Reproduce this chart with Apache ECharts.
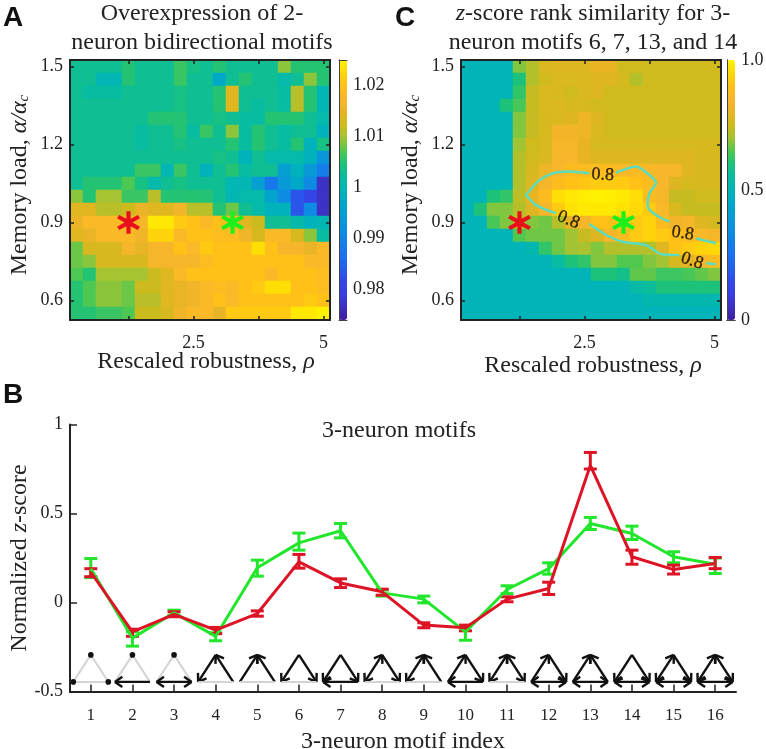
<!DOCTYPE html>
<html>
<head>
<meta charset="utf-8">
<title>Motif statistics</title>
<script src="https://cdn.jsdelivr.net/npm/echarts@6/dist/echarts.min.js"></script>
<style>
html, body { margin: 0; padding: 0; background: #fff; }
#main { width: 766px; height: 749px; }
</style>
</head>
<body>
<div id="main"></div>
<script>
// heat map axes
const rhoVals = ['0.25','0.5','0.75','1','1.25','1.5','1.75','2','2.25','2.5','2.75','3','3.25','3.5','3.75','4','4.25','4.5','4.75','5'];
const alphaVals = ['0.55','0.6','0.65','0.7','0.75','0.8','0.85','0.9','0.95','1','1.05','1.1','1.15','1.2','1.25','1.3','1.35','1.4','1.45','1.5'];
const rhoTicks = [1.25, 2.5, 3.75, 5];
const rhoLabels = [2.5, 5];
const alphaTicks = [0.6, 0.9, 1.2, 1.5];

// panel A, rows from alpha 1.5 down to 0.55
const heatA = [
  [1.003,1.003,1.003,1.003,1.005,1.003,1.003,1.003,1.006,1.004,1.003,1.005,1.003,1.003,1.003,1.003,1.009,1.005,1.005,1.005],
  [1.003,1.003,1.000,1.000,1.005,1.003,1.003,1.003,1.006,1.003,1.003,0.997,1.003,1.005,1.003,1.003,1.001,1.003,1.009,1.005],
  [1.003,1.002,1.002,1.002,1.003,1.003,1.003,1.003,1.004,1.003,1.003,1.005,1.014,1.003,1.003,1.003,1.002,1.011,1.005,1.000],
  [1.003,1.003,1.003,1.003,1.003,1.003,1.003,1.003,1.004,1.003,1.003,1.005,1.014,1.003,1.002,1.003,1.002,1.011,1.005,1.000],
  [1.003,1.003,1.003,1.003,1.003,1.003,1.005,1.005,1.005,1.003,1.003,1.004,1.003,1.002,1.002,1.005,1.005,1.005,1.003,1.001],
  [1.003,1.003,1.003,1.003,1.003,1.002,1.003,1.003,1.005,1.002,1.006,1.003,1.009,1.002,1.005,1.003,1.002,1.003,1.003,0.999],
  [1.003,1.003,1.003,1.003,1.003,1.002,1.003,1.003,1.004,1.003,1.003,1.003,1.005,1.002,1.005,1.003,1.002,1.005,0.999,1.004],
  [1.003,1.003,1.003,1.003,1.003,1.003,1.003,1.003,1.003,1.003,1.003,1.004,1.003,0.999,1.003,1.001,1.001,1.001,0.999,0.993],
  [1.003,1.003,1.003,1.003,1.003,1.006,1.006,1.000,1.006,1.003,0.999,1.003,1.005,1.002,1.003,1.003,0.995,0.999,0.994,0.989],
  [1.003,1.005,1.005,1.005,1.007,1.004,1.001,1.003,1.004,1.003,1.003,1.003,1.000,1.000,0.995,0.988,0.994,0.997,0.991,0.977],
  [1.009,1.005,1.010,1.010,1.006,1.006,1.011,1.005,1.005,1.005,1.005,1.003,1.000,1.001,1.001,0.996,0.991,0.983,0.981,0.977],
  [1.014,1.014,1.011,1.011,1.012,1.015,1.014,1.014,1.016,1.011,1.011,1.005,1.008,1.003,1.001,0.999,0.999,0.983,0.991,0.977],
  [1.015,1.018,1.018,1.018,1.018,1.017,1.024,1.024,1.021,1.020,1.018,1.020,1.018,1.014,1.012,1.003,1.003,1.001,0.999,1.000],
  [1.014,1.015,1.018,1.018,1.018,1.016,1.022,1.022,1.018,1.020,1.020,1.019,1.019,1.016,1.013,1.018,1.018,1.013,1.009,1.002],
  [1.008,1.013,1.013,1.013,1.017,1.015,1.017,1.017,1.020,1.018,1.021,1.020,1.020,1.020,1.023,1.020,1.017,1.017,1.015,1.018],
  [1.008,1.009,1.013,1.013,1.013,1.013,1.017,1.017,1.017,1.017,1.019,1.020,1.020,1.020,1.020,1.020,1.020,1.020,1.018,1.018],
  [1.007,1.005,1.010,1.010,1.010,1.010,1.012,1.014,1.018,1.020,1.020,1.020,1.020,1.020,1.020,1.018,1.020,1.020,1.020,1.019],
  [1.005,1.007,1.009,1.009,1.008,1.012,1.012,1.014,1.015,1.016,1.018,1.019,1.018,1.020,1.021,1.023,1.023,1.020,1.020,1.019],
  [1.005,1.007,1.009,1.009,1.008,1.011,1.011,1.014,1.015,1.016,1.018,1.020,1.018,1.020,1.020,1.020,1.020,1.020,1.021,1.020],
  [1.005,1.005,1.006,1.006,1.007,1.012,1.012,1.013,1.016,1.018,1.018,1.015,1.021,1.021,1.021,1.021,1.021,1.024,1.024,1.025]
];

// panel C, same layout
const heatC = [
  [.50,.50,.50,.50,.68,.72,.77,.78,.78,.78,.80,.80,.75,.75,.75,.75,.75,.75,.75,.75],
  [.50,.50,.50,.50,.60,.72,.75,.77,.77,.77,.78,.78,.76,.72,.75,.75,.75,.75,.75,.75],
  [.50,.50,.50,.50,.62,.74,.77,.76,.75,.77,.78,.75,.75,.75,.75,.75,.75,.75,.75,.75],
  [.50,.50,.50,.60,.64,.74,.77,.77,.76,.76,.75,.75,.75,.75,.75,.75,.75,.75,.75,.75],
  [.50,.50,.50,.50,.68,.74,.76,.77,.78,.82,.78,.75,.75,.75,.75,.75,.75,.75,.75,.75],
  [.50,.50,.50,.50,.68,.74,.76,.83,.83,.82,.77,.75,.75,.75,.75,.75,.75,.75,.75,.75],
  [.50,.50,.50,.50,.70,.75,.76,.84,.84,.80,.76,.76,.76,.76,.76,.76,.76,.76,.76,.76],
  [.50,.50,.50,.50,.72,.75,.77,.84,.85,.80,.78,.78,.78,.78,.78,.78,.78,.78,.76,.76],
  [.50,.50,.50,.50,.72,.76,.82,.85,.88,.88,.88,.88,.86,.87,.86,.85,.84,.78,.76,.76],
  [.50,.50,.50,.50,.72,.78,.84,.88,.90,.91,.92,.92,.92,.90,.88,.85,.78,.76,.76,.76],
  [.50,.50,.60,.62,.73,.80,.88,.96,.98,.99,1.0,.99,.98,.96,.88,.84,.74,.74,.75,.75],
  [.50,.60,.68,.68,.72,.78,.84,.92,.97,.98,.98,.98,.97,.95,.92,.86,.77,.74,.74,.74],
  [.50,.50,.64,.68,.74,.68,.67,.72,.80,.84,.90,.90,.92,.92,.94,.88,.83,.84,.78,.76],
  [.50,.50,.50,.50,.65,.67,.67,.67,.70,.74,.78,.85,.88,.92,.94,.92,.90,.88,.86,.84],
  [.50,.50,.50,.50,.50,.52,.62,.67,.70,.71,.68,.72,.72,.72,.72,.78,.90,.92,.94,.95],
  [.50,.50,.50,.50,.50,.50,.50,.55,.60,.62,.68,.68,.65,.65,.68,.70,.76,.80,.86,.88],
  [.50,.50,.50,.50,.50,.50,.50,.50,.50,.50,.60,.60,.58,.66,.66,.63,.63,.64,.66,.68],
  [.50,.50,.50,.50,.50,.50,.50,.50,.50,.50,.50,.50,.50,.54,.56,.60,.60,.60,.60,.60],
  [.50,.50,.50,.50,.50,.50,.50,.50,.50,.50,.50,.50,.50,.50,.52,.52,.52,.52,.52,.52],
  [.50,.50,.50,.50,.50,.50,.50,.50,.50,.50,.50,.50,.50,.50,.50,.50,.50,.50,.50,.50]
];

const starRed = [1.25, 0.9];
const starGreen = [3.25, 0.9];

// 0.8 contour of panel C, null where the inline labels sit
const contourUpper = [[1.375,1.006],[1.632,1.063],[1.888,1.089],[2.208,1.096],[2.593,1.089],null,[3.106,1.092],[3.49,1.115],[3.747,1.083],[3.875,1.053],[3.747,1.012],[3.715,0.961],[3.875,0.929],[4.131,0.903],null,[4.644,0.839],[5.029,0.82]];
const contourLower = [[1.375,1.006],[1.567,0.967],[1.952,0.935],null,[2.593,0.894],[2.914,0.852],[3.234,0.826],[3.683,0.813],[3.971,0.779],[4.324,0.775],null,[4.836,0.743],[5.029,0.739]];
const contourLabels = [[2.85,1.083,-3],[2.19,0.91,-22],[4.39,0.858,-8],[4.57,0.752,-18]];

// panel B
const motifIndex = ['1','2','3','4','5','6','7','8','9','10','11','12','13','14','15','16'];
const greenMean = [0.19,-0.20,-0.058,-0.19,0.195,0.335,0.403,0.054,0.019,-0.165,0.073,0.19,0.444,0.388,0.257,0.215];
const greenHigh = [0.247,-0.165,-0.043,-0.17,0.238,0.39,0.444,0.07,0.036,-0.135,0.094,0.223,0.478,0.429,0.285,0.25];
const greenLow = [0.14,-0.245,-0.072,-0.215,0.148,0.294,0.363,0.036,-0.002,-0.212,0.05,0.159,0.41,0.354,0.223,0.163];
const redMean = [0.17,-0.165,-0.067,-0.155,-0.062,0.228,0.11,0.06,-0.127,-0.142,0.019,0.079,0.77,0.257,0.185,0.219];
const redHigh = [0.19,-0.15,-0.052,-0.14,-0.047,0.27,0.133,0.075,-0.114,-0.127,0.032,0.114,0.843,0.294,0.21,0.253];
const redLow = [0.145,-0.19,-0.08,-0.175,-0.077,0.193,0.084,0.041,-0.142,-0.159,0.004,0.045,0.75,0.215,0.16,0.19];

// motif edges: 0 grey, 1 arrow at first node, 2 arrow at second node, 3 both
// left edge is top-left, right edge is top-right, bottom edge is left-right
const motifLeft =   [0,0,0,2,1,2,2,3,3,1,3,1,1,2,3,3];
const motifRight =  [0,0,0,1,1,2,2,2,1,2,3,2,1,2,2,3];
const motifBottom = [0,1,3,0,0,0,1,0,0,1,0,3,3,3,3,3];
const motifDots =   [3,1,1,0,0,0,0,0,0,0,0,0,0,0,0,0];
const motifBase = -0.446;

// evenly spaced stops from bottom to top of the colour bar
const colormap = ['#3e1f9c','#3d2fc0','#3a3ee2','#3248e8','#2460ec','#1a70f0','#1280e8','#0c90e0','#069cd4','#00a8c8','#00b4b8',
  '#08bca2','#1cc27a','#50c850','#a0c434','#d0ba1c','#e8b424','#f8b62c','#ffc018','#ffd808','#fff200'];

const serif = '"Liberation Serif", serif';
const ink = '#222';
const grids = [], xAxes = [], yAxes = [], series = [], visualMaps = [];

function grid(left, top, width, height) {
  grids.push({ left: left, top: top, width: width, height: height, outerBoundsMode: 'none' });
  return grids.length - 1;
}

function cellsOf(rows) {
  const out = [];
  rows.forEach((row, r) => row.forEach((v, c) => out.push([c, rows.length - 1 - r, v])));
  return out;
}

function nameRich(padding) {
  return {
    fontFamily: serif, fontSize: 24, color: ink, padding: padding || 0,
    rich: {
      n: { fontFamily: serif, fontSize: 24, color: ink },
      i: { fontFamily: serif, fontSize: 24, fontStyle: 'italic', color: ink },
      s: { fontFamily: serif, fontSize: 15, fontStyle: 'italic', color: ink, verticalAlign: 'bottom', padding: [8, 0, 0, 0] }
    }
  };
}

function heatPanel(left, rows, xNameGap, xNameShift) {
  const top = 60, size = 260;
  // heat cells on category axes
  const hg = grid(left, top, size, size);
  xAxes.push({ type: 'category', gridIndex: hg, data: rhoVals, show: false });
  yAxes.push({ type: 'category', gridIndex: hg, data: alphaVals, show: false });
  const hx = xAxes.length - 1, hy = yAxes.length - 1;
  series.push({ type: 'heatmap', xAxisIndex: hx, yAxisIndex: hy, data: cellsOf(rows), emphasis: { disabled: true }, progressive: 0 });
  const heatIndex = series.length - 1;

  // value axes on top of it, for the frame, ticks, stars and contour
  const og = grid(left, top, size, size);
  const line = { show: true, lineStyle: { color: ink, width: 2 } };
  const tick = { show: true, inside: true, length: 4, lineStyle: { color: ink, width: 1.5 } };
  const lab = { color: ink, fontFamily: serif, fontSize: 18 };
  xAxes.push({
    type: 'value', gridIndex: og, position: 'bottom', min: 0.125, max: 5.125, z: 5, splitLine: { show: false },
    axisLine: line, axisTick: Object.assign({ customValues: rhoTicks }, tick),
    axisLabel: Object.assign({ customValues: rhoLabels, margin: 14 }, lab),
    name: '{n|Rescaled robustness, }{i|ρ}', nameLocation: 'middle', nameGap: xNameGap, nameMoveOverlap: false, nameTextStyle: nameRich([0, 0, 0, xNameShift])
  });
  const ox = xAxes.length - 1;
  xAxes.push({
    type: 'value', gridIndex: og, position: 'top', min: 0.125, max: 5.125, z: 5, splitLine: { show: false },
    axisLine: line, axisTick: Object.assign({ customValues: rhoTicks }, tick), axisLabel: { show: false }
  });
  yAxes.push({
    type: 'value', gridIndex: og, position: 'left', min: 0.525, max: 1.525, z: 5, splitLine: { show: false },
    axisLine: line, axisTick: Object.assign({ customValues: alphaTicks }, tick),
    axisLabel: Object.assign({ customValues: alphaTicks, margin: 7, formatter: v => v.toFixed(1) }, lab),
    name: '{n|Memory load, }{i|α/α}{s|c}', nameLocation: 'middle', nameRotate: 90, nameGap: 38, nameMoveOverlap: false, nameTextStyle: nameRich([0, 0, 0, 10])
  });
  const oy = yAxes.length - 1;
  yAxes.push({
    type: 'value', gridIndex: og, position: 'right', min: 0.525, max: 1.525, z: 5, splitLine: { show: false },
    axisLine: line, axisTick: Object.assign({ customValues: alphaTicks }, tick), axisLabel: { show: false }
  });

  const star = 'path://M44 0h12v38l33-19 6 10-33 21 33 21-6 10-33-19v38H44V62L11 81 5 71l33-21L5 29l6-10 33 19z';
  series.push({ type: 'scatter', xAxisIndex: ox, yAxisIndex: oy, z: 6, data: [starRed], symbol: star, symbolSize: 21, itemStyle: { color: '#e8101c', borderColor: '#e8101c', borderWidth: 1.4, opacity: 1 }, silent: true });
  series.push({ type: 'scatter', xAxisIndex: ox, yAxisIndex: oy, z: 6, data: [starGreen], symbol: star, symbolSize: 21, itemStyle: { color: '#1cf01c', borderColor: '#1cf01c', borderWidth: 1.4, opacity: 1 }, silent: true });
  return { heatIndex: heatIndex, ox: ox, oy: oy };
}

function colorBar(left, heatIndex, min, max, ticks, fmt) {
  const top = 60, h = 260, w = 8;
  visualMaps.push({
    type: 'continuous', seriesIndex: heatIndex, min: min, max: max, calculable: false, hoverLink: false,
    left: left, top: top, itemWidth: w, itemHeight: h, padding: 0, text: null,
    inRange: { color: colormap }
  });
  const g = grid(left, top, w, h);
  const line = { show: true, lineStyle: { color: '#444', width: 1 } };
  xAxes.push({ type: 'value', gridIndex: g, position: 'bottom', min: 0, max: 1, z: 5, splitLine: { show: false }, axisLine: line, axisTick: { show: false }, axisLabel: { show: false } });
  xAxes.push({ type: 'value', gridIndex: g, position: 'top', min: 0, max: 1, z: 5, splitLine: { show: false }, axisLine: line, axisTick: { show: false }, axisLabel: { show: false } });
  yAxes.push({ type: 'value', gridIndex: g, position: 'left', min: min, max: max, z: 5, splitLine: { show: false }, axisLine: line, axisTick: { show: false }, axisLabel: { show: false } });
  yAxes.push({
    type: 'value', gridIndex: g, position: 'right', min: min, max: max, z: 5, splitLine: { show: false }, axisLine: line, axisTick: { show: false },
    axisLabel: { customValues: ticks, color: ink, fontFamily: serif, fontSize: 18, margin: 6, formatter: fmt }
  });
}

const panelA = heatPanel(70, heatA, 30, 12);
colorBar(339, panelA.heatIndex, 0.974, 1.025, [0.98, 0.99, 1, 1.01, 1.02], v => String(+v.toFixed(2)));
const panelC = heatPanel(461, heatC, 34, 4);
colorBar(727, panelC.heatIndex, 0, 1, [0, 0.5, 1], v => v === 1 ? '1.0' : String(v));

// contour and its labels, panel C
[contourUpper, contourLower].forEach(pts => {
  series.push({
    type: 'line', xAxisIndex: panelC.ox, yAxisIndex: panelC.oy, z: 5, data: pts.map(p => p === null ? [null, null] : p),
    showSymbol: false, connectNulls: false, smooth: 0.25, clip: true, silent: true,
    lineStyle: { color: '#5adcc0', width: 2.5 }
  });
});
contourLabels.forEach(l => {
  series.push({
    type: 'scatter', xAxisIndex: panelC.ox, yAxisIndex: panelC.oy, z: 7, data: [[l[0], l[1]]], symbolSize: 0, silent: true,
    label: { show: true, position: 'inside', formatter: '0.8', rotate: l[2], fontFamily: serif, fontSize: 18, color: '#000', textBorderColor: '#000', textBorderWidth: 0.3 }
  });
});

// panel B
const gb = grid(70, 424.5, 666, 267);
xAxes.push({
  type: 'category', gridIndex: gb, data: motifIndex, z: 5,
  axisLine: { show: true, onZero: false, lineStyle: { color: ink, width: 2 } },
  axisTick: { show: true, inside: true, alignWithLabel: true, length: 7, lineStyle: { color: ink, width: 1.5 } },
  axisLabel: { color: ink, fontFamily: serif, fontSize: 17, margin: 16, interval: 0 },
  name: '3-neuron motif index', nameLocation: 'middle', nameGap: 38, nameMoveOverlap: false,
  nameTextStyle: { fontFamily: serif, fontSize: 24, color: ink }
});
const bx = xAxes.length - 1;
yAxes.push({
  type: 'value', gridIndex: gb, min: -0.5, max: 1, interval: 0.5, z: 5, splitLine: { show: false },
  axisLine: { show: true, onZero: false, lineStyle: { color: ink, width: 2 } },
  axisTick: { show: true, inside: true, length: 7, lineStyle: { color: ink, width: 1.5 } },
  axisLabel: { color: ink, fontFamily: serif, fontSize: 18, margin: 7 },
  name: '{n|Normalized }{i|z}{n|-score}', nameLocation: 'middle', nameRotate: 90, nameGap: 38, nameMoveOverlap: false, nameTextStyle: nameRich()
});
const by = yAxes.length - 1;

function errorSeries(high, low, color) {
  return {
    type: 'custom', xAxisIndex: bx, yAxisIndex: by, z: 4, silent: true,
    data: motifIndex.map((m, i) => [i, low[i], high[i]]),
    renderItem: (params, api) => {
      const a = api.coord([api.value(0), api.value(1)]);
      const b = api.coord([api.value(0), api.value(2)]);
      const cap = 6.5;
      const st = { stroke: color, lineWidth: 3 };
      return {
        type: 'group',
        children: [
          { type: 'line', shape: { x1: a[0], y1: a[1], x2: b[0], y2: b[1] }, style: st },
          { type: 'line', shape: { x1: a[0] - cap, y1: a[1], x2: a[0] + cap, y2: a[1] }, style: st },
          { type: 'line', shape: { x1: b[0] - cap, y1: b[1], x2: b[0] + cap, y2: b[1] }, style: st }
        ]
      };
    }
  };
}

function meanSeries(values, color) {
  return {
    type: 'line', xAxisIndex: bx, yAxisIndex: by, z: 4, data: values, showSymbol: false, silent: true,
    lineStyle: { color: color, width: 3 }
  };
}

const green = '#22e62c', red = '#dd1426';
series.push(errorSeries(greenHigh, greenLow, green), meanSeries(greenMean, green));
series.push(errorSeries(redHigh, redLow, red), meanSeries(redMean, red));

// motif glyphs along the bottom
function edge(p, q, kind) {
  const grey = '#d4d4d4';
  const out = [];
  if (kind === 0) {
    out.push({ type: 'line', shape: { x1: p[0], y1: p[1], x2: q[0], y2: q[1] }, style: { stroke: grey, lineWidth: 2 } });
    return out;
  }
  const black = { stroke: '#111', lineWidth: 2.4 };
  out.push({ type: 'line', shape: { x1: p[0], y1: p[1], x2: q[0], y2: q[1] }, style: black });
  const head = (tip, from) => {
    const ang = Math.atan2(from[1] - tip[1], from[0] - tip[0]);
    [-0.6, 0.6].forEach(d => {
      out.push({ type: 'line', shape: { x1: tip[0], y1: tip[1], x2: tip[0] + 9 * Math.cos(ang + d), y2: tip[1] + 9 * Math.sin(ang + d) }, style: black });
    });
  };
  if (kind === 1 || kind === 3) head(p, q);
  if (kind === 2 || kind === 3) head(q, p);
  return out;
}

series.push({
  type: 'custom', xAxisIndex: bx, yAxisIndex: by, z: 3, silent: true,
  data: motifIndex.map((m, i) => [i, motifBase]),
  renderItem: (params, api) => {
    const i = api.value(0);
    const c = api.coord([i, api.value(1)]);
    const T = [c[0], c[1] - 27], L = [c[0] - 17.5, c[1]], R = [c[0] + 17.5, c[1]];
    let kids = [];
    kids = kids.concat(edge(T, L, motifLeft[i]), edge(T, R, motifRight[i]), edge(L, R, motifBottom[i]));
    const dots = motifDots[i] === 3 ? [T, L, R] : motifDots[i] === 1 ? [T] : [];
    dots.forEach(d => kids.push({ type: 'circle', shape: { cx: d[0], cy: d[1], r: 2.8 }, style: { fill: '#111' } }));
    return { type: 'group', children: kids };
  }
});

const titleRich = {
  n: { fontFamily: serif, fontSize: 24, color: ink, lineHeight: 29 },
  i: { fontFamily: serif, fontSize: 24, fontStyle: 'italic', color: ink, lineHeight: 29 }
};
function heading(text, x, y) {
  return { text: text, left: x, top: y, padding: 0, textAlign: 'center', textStyle: { rich: titleRich, fontFamily: serif, fontSize: 24, color: ink, fontWeight: 'normal', lineHeight: 29 } };
}
function letter(text, x, y) {
  return { text: text, left: x, top: y, padding: 0, textStyle: { fontFamily: '"Liberation Sans", sans-serif', fontSize: 28, fontWeight: 'bold', color: '#111' } };
}

const option = {
  animation: false,
  backgroundColor: '#fff',
  title: [
    letter('A', 3, 4),
    letter('C', 395, 4),
    letter('B', 3, 381),
    heading('{n|Overexpression of 2-}\n{n|neuron bidirectional motifs}', 202, -1),
    heading('{i|z}{n|-score rank similarity for 3-}\n{n|neuron motifs 6, 7, 13, and 14}', 593, -1),
    heading('{n|3-neuron motifs}', 399, 416)
  ],
  grid: grids,
  xAxis: xAxes,
  yAxis: yAxes,
  visualMap: visualMaps,
  series: series
};

const myChart = echarts.init(document.getElementById('main'));
myChart.setOption(option);
</script>
</body>
</html>
